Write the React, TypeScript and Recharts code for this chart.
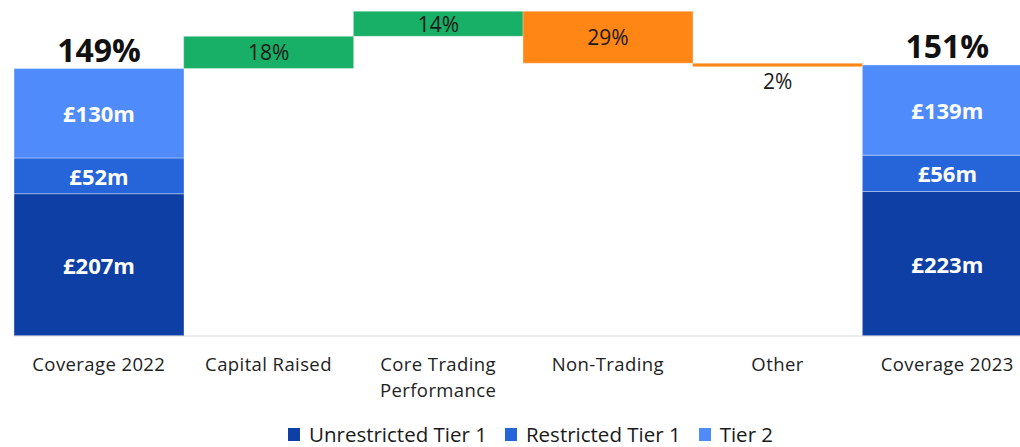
import React from 'react';
import { BarChart, Bar, XAxis, YAxis, Legend, LabelList } from 'recharts';

// categories on the x axis ('\n' splits a tick into two lines)
const categories = [
  'Coverage 2022',
  'Capital Raised',
  'Core Trading\nPerformance',
  'Non-Trading',
  'Other',
  'Coverage 2023',
];

// legend / series names, bottom of the stack first
const seriesNames = ['Unrestricted Tier 1', 'Restricted Tier 1', 'Tier 2'];

// coverage ratio at the start and end (%)
const coverageRatio = [149, 151];
// capital make-up at the start and end (£m)
const unrestrictedTier1 = [207, 223];
const restrictedTier1 = [52, 56];
const tier2 = [130, 139];
// movements in coverage between the two years (% points)
const movements = [18, 14, -29, -2];

const COLORS = {
  ut1: '#0D3FA5',
  rt1: '#2564D9',
  t2: '#4F8BFB',
  up: '#18AF66',
  down: '#FF8514',
};

const FONT = "'Open Sans', sans-serif";

type Row = {
  name: string;
  base: number;
  ut1?: number;
  rt1?: number;
  t2?: number;
  up?: number;
  down?: number;
  ut1Label?: string;
  rt1Label?: string;
  t2Label?: string;
  totalLabel?: string;
  moveLabel?: string;
};

// stacked coverage bar: split the ratio in proportion to the capital tiers
const coverageRow = (i: number, name: string): Row => {
  const total = unrestrictedTier1[i] + restrictedTier1[i] + tier2[i];
  const k = coverageRatio[i] / total;
  return {
    name,
    base: 0,
    ut1: unrestrictedTier1[i] * k,
    rt1: restrictedTier1[i] * k,
    t2: tier2[i] * k,
    ut1Label: `£${unrestrictedTier1[i]}m`,
    rt1Label: `£${restrictedTier1[i]}m`,
    t2Label: `£${tier2[i]}m`,
    totalLabel: `${coverageRatio[i]}%`,
  };
};

const buildData = (): Row[] => {
  const rows: Row[] = [coverageRow(0, categories[0])];
  let level = coverageRatio[0];
  movements.forEach((m, j) => {
    const next = level + m;
    rows.push({
      name: categories[j + 1],
      base: Math.min(level, next),
      up: m > 0 ? m : 0,
      down: m < 0 ? -m : 0,
      moveLabel: `${Math.abs(m)}%`,
    });
    level = next;
  });
  rows.push(coverageRow(1, categories[5]));
  return rows;
};

const data = buildData();

const box = (p: any) => {
  const vb = p.viewBox || {};
  return {
    x: Number(p.x ?? vb.x),
    y: Number(p.y ?? vb.y),
    width: Number(p.width ?? vb.width),
    height: Number(p.height ?? vb.height),
  };
};

const SegmentLabel = (p: any) => {
  if (!p.value) return null;
  const { x, y, width, height } = box(p);
  return (
    <text
      x={x + width / 2}
      y={y + height / 2}
      textAnchor="middle"
      dominantBaseline="central"
      fill="#fff"
      fontWeight={700}
      fontSize={22}
    >
      {p.value}
    </text>
  );
};

const TotalLabel = (p: any) => {
  if (!p.value) return null;
  const { x, y, width } = box(p);
  return (
    <text x={x + width / 2} y={y - 7} textAnchor="middle" fill="#111" fontWeight={700} fontSize={32}>
      {p.value}
    </text>
  );
};

const MoveLabel = (p: any) => {
  if (!p.value) return null;
  const { x, y, width, height } = box(p);
  if (!height || height <= 0) return null;
  // thin bars get the label underneath
  const cy = height < 14 ? y + height + 14 : y + height / 2;
  return (
    <text
      x={x + width / 2}
      y={cy}
      textAnchor="middle"
      dominantBaseline="central"
      fill="#1a1a1a"
      fontSize={21}
    >
      {p.value}
    </text>
  );
};

const CategoryTick = ({ x, y, payload }: any) => {
  const lines = String(payload.value).split('\n');
  return (
    <text x={x} y={y} textAnchor="middle" fontSize={18.5} letterSpacing={0.4} fill="#222">
      {lines.map((l, i) => (
        <tspan key={i} x={x} dy={i === 0 ? 27 : 26}>
          {l}
        </tspan>
      ))}
    </text>
  );
};

const LegendContent = ({ payload }: any) => {
  const items = (payload || [])
    .filter((e: any) => e.type !== 'none' && seriesNames.includes(e.value))
    .sort((a: any, b: any) => seriesNames.indexOf(a.value) - seriesNames.indexOf(b.value));
  return (
    <div
      style={{
        display: 'flex',
        alignItems: 'center',
        height: 41,
        paddingTop: 15,
        boxSizing: 'border-box',
        paddingLeft: 274,
        fontSize: 20.5,
        lineHeight: '20px',
        color: '#1a1a1a',
      }}
    >
      {items.map((e: any) => (
        <div key={e.value} style={{ display: 'flex', alignItems: 'center', marginRight: 18 }}>
          <span style={{ width: 12, height: 13, background: e.color, marginRight: 9 }} />
          <span>{e.value}</span>
        </div>
      ))}
    </div>
  );
};

const edge = 'rgba(255,255,255,0.35)';

export default function App() {
  return (
    <div
      style={{
        position: 'absolute',
        left: 0,
        top: 0,
        width: 1020,
        height: 447,
        overflow: 'hidden',
        background: '#fff',
        fontFamily: FONT,
      }}
    >
      <BarChart
        width={1032}
        height={447}
        data={data}
        margin={{ top: 4, right: 0, bottom: 0, left: 14 }}
        barCategoryGap={0}
      >
        <XAxis
          dataKey="name"
          interval={0}
          height={70}
          tickLine={false}
          axisLine={{ stroke: '#d9d9d9' }}
          tick={<CategoryTick />}
        />
        <YAxis hide domain={[0, 185]} />
        <Legend verticalAlign="bottom" align="left" height={41} content={<LegendContent />} />
        <Bar dataKey="base" stackId="w" fill="transparent" legendType="none" isAnimationActive={false} />
        <Bar dataKey="ut1" name={seriesNames[0]} stackId="w" fill={COLORS.ut1} stroke={edge} isAnimationActive={false}>
          <LabelList dataKey="ut1Label" content={<SegmentLabel />} />
        </Bar>
        <Bar dataKey="rt1" name={seriesNames[1]} stackId="w" fill={COLORS.rt1} stroke={edge} isAnimationActive={false}>
          <LabelList dataKey="rt1Label" content={<SegmentLabel />} />
        </Bar>
        <Bar dataKey="t2" name={seriesNames[2]} stackId="w" fill={COLORS.t2} stroke={edge} isAnimationActive={false}>
          <LabelList dataKey="t2Label" content={<SegmentLabel />} />
          <LabelList dataKey="totalLabel" content={<TotalLabel />} />
        </Bar>
        <Bar dataKey="up" stackId="w" fill={COLORS.up} stroke={edge} legendType="none" isAnimationActive={false}>
          <LabelList dataKey="moveLabel" content={<MoveLabel />} />
        </Bar>
        <Bar dataKey="down" stackId="w" fill={COLORS.down} stroke={edge} legendType="none" isAnimationActive={false}>
          <LabelList dataKey="moveLabel" content={<MoveLabel />} />
        </Bar>
      </BarChart>
    </div>
  );
}
